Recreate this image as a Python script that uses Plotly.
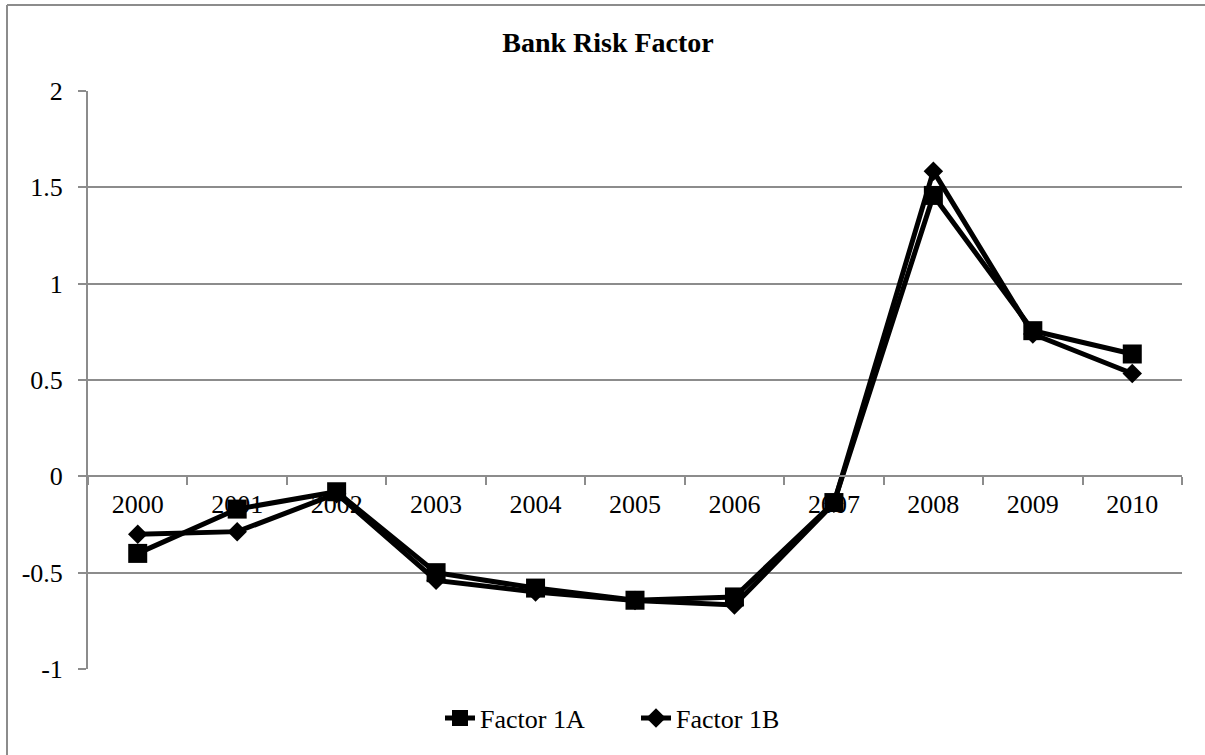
import plotly.graph_objects as go

years = ["2000", "2001", "2002", "2003", "2004", "2005", "2006", "2007", "2008", "2009", "2010"]
factor_1a = [-0.40, -0.17, -0.08, -0.50, -0.58, -0.643, -0.626, -0.136, 1.458, 0.756, 0.635]
factor_1b = [-0.30, -0.287, -0.09, -0.54, -0.60, -0.645, -0.668, -0.14, 1.584, 0.739, 0.534]

W, H = 1205, 755
L, R, T, B = 88, W - 1182, 91, H - 669
pw, ph = W - L - R, H - T - B

serif = "Liberation Serif"
grid = "#8c8c8c"

fig = go.Figure()
fig.add_trace(go.Scatter(
    x=years, y=factor_1a, name="Factor 1A", mode="lines+markers",
    line=dict(color="black", width=5),
    marker=dict(symbol="square", size=19, color="black"),
))
fig.add_trace(go.Scatter(
    x=years, y=factor_1b, name="Factor 1B", mode="lines+markers",
    line=dict(color="black", width=5),
    marker=dict(symbol="diamond", size=15, color="black"),
))

# outer chart frame: only the left and top edges fall inside the page
frame_left = (7 - L) / pw
frame_top = (H - B - 5) / ph
for x0, y0, x1, y1 in [(frame_left, -B / ph - 0.05, frame_left, frame_top),
                       (frame_left, frame_top, (W - L) / pw + 0.05, frame_top)]:
    fig.add_shape(type="line", xref="paper", yref="paper",
                  x0=x0, y0=y0, x1=x1, y1=y1,
                  line=dict(color=grid, width=2), layer="below")

fig.update_layout(
    width=W, height=H,
    margin=dict(l=L, r=R, t=T, b=B),
    paper_bgcolor="white", plot_bgcolor="white",
    font=dict(family=serif, size=26, color="black"),
    title=dict(text="<b>Bank Risk Factor</b>", x=608 / W, xanchor="center",
               y=1 - 42 / H, yanchor="middle", font=dict(size=28, family=serif)),
    showlegend=True,
    legend=dict(orientation="h", x=(440 - L) / pw, xanchor="left", y=-(718 - 669) / ph,
                yanchor="middle", font=dict(size=26, family=serif),
                entrywidth=151, entrywidthmode="pixels", traceorder="normal"),
    xaxis=dict(
        type="category", range=[-0.5, 10.5],
        anchor="free", position=1 / 3,
        showline=True, linecolor=grid, linewidth=2,
        ticks="outside", tickson="boundaries", ticklen=8, tickcolor=grid, tickwidth=2,
        showgrid=False, zeroline=False, ticklabelstandoff=4,
        tickfont=dict(size=26, family=serif),
    ),
    yaxis=dict(
        range=[-1, 2], tickvals=[-1, -0.5, 0, 0.5, 1, 1.5, 2],
        ticktext=["-1", "-0.5", "0", "0.5", "1", "1.5", "2"],
        showline=True, linecolor=grid, linewidth=2,
        ticks="outside", ticklen=8, tickcolor=grid, tickwidth=2,
        showgrid=True, gridcolor=grid, gridwidth=2,
        zeroline=False, ticklabelstandoff=10,
        tickfont=dict(size=26, family=serif),
    ),
)

fig.write_html("out.html")
